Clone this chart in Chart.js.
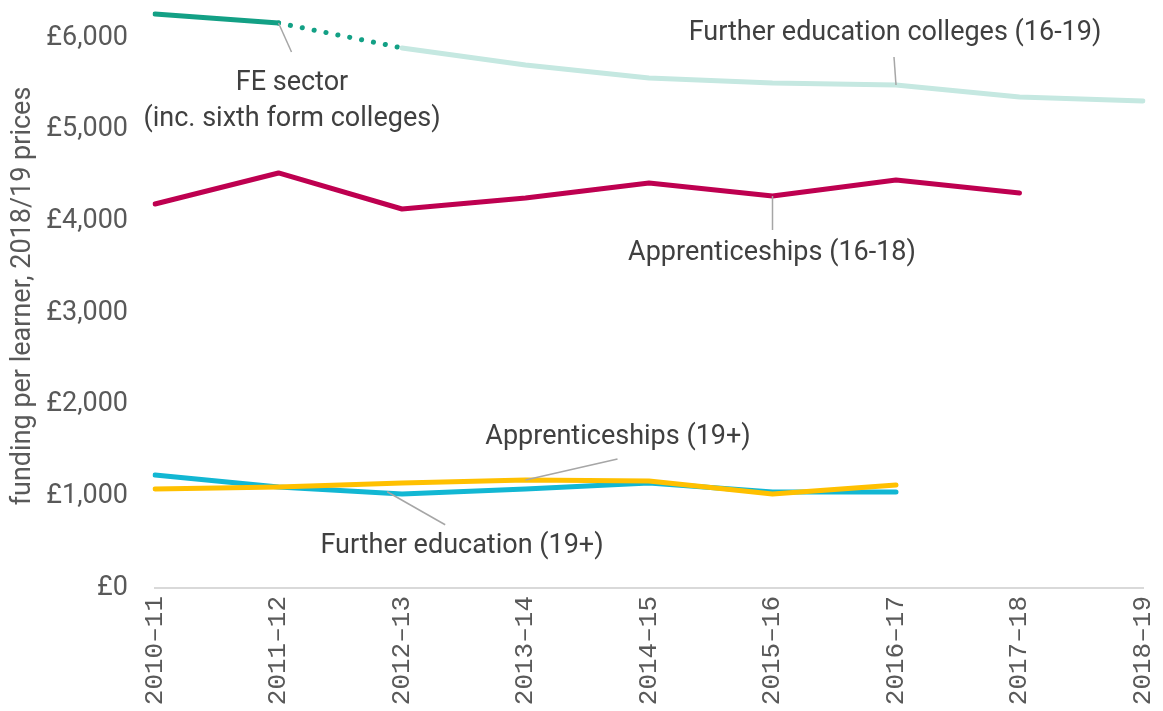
<!DOCTYPE html>
<html><head><meta charset="utf-8">
<script src="https://cdn.jsdelivr.net/npm/chart.js@4/dist/chart.umd.min.js"></script>
<style>html,body{margin:0;padding:0;background:#fff}#wrap{width:1163px;height:711px}</style>
</head><body><div id="wrap"><canvas id="c" width="1163" height="711"></canvas></div>
<script>
const categories = ['2010\u201311','2011\u201312','2012\u201313','2013\u201314','2014\u201315','2015\u201316','2016\u201317','2017\u201318','2018\u201319'];
const feSector = [6262, 6163, null, null, null, null, null, null, null];
const feSectorDotted = [null, 6163, 5891, null, null, null, null, null, null];
const feColleges = [null, null, 5891, 5705, 5563, 5509, 5487, 5356, 5313];
const appr1618 = [4189, 4527, 4134, 4254, 4418, 4276, 4451, 4309, null];
const appr19 = [1080, 1102, 1145, 1178, 1167, 1025, 1124, null, null];
const fe19 = [1233, 1102, 1025, 1080, 1145, 1047, 1047, null, null];
const yTicks = [0, 1000, 2000, 3000, 4000, 5000, 6000];

const annotations = [
  {lines:['FE sector','(inc. sixth form colleges)'], ax:1, av:6163, lx:13, ly:29, tx:292, ty:[83,119]},
  {lines:['Further education colleges (16-19)'], ax:6, av:5487, lx:-2, ly:-28, tx:895, ty:[33]},
  {lines:['Apprenticeships (16-18)'], ax:5, av:4276, lx:0, ly:34, tx:772, ty:[253]},
  {lines:['Apprenticeships (19+)'], ax:3, av:1178, lx:92, ly:-21, tx:618, ty:[437]},
  {lines:['Further education (19+)'], ax:1.88, av:1050, lx:58, ly:33, tx:462, ty:[546]}
];

const annPlugin = {
  id:'ann',
  afterDatasetsDraw(chart){
    const ctx = chart.ctx, xs = chart.scales.x, ys = chart.scales.y;
    ctx.save();
    annotations.forEach(a=>{
      const px = xs.getPixelForValue(a.ax), py = ys.getPixelForValue(a.av);
      ctx.strokeStyle = '#a6a6a6'; ctx.lineWidth = 1.5;
      ctx.beginPath(); ctx.moveTo(px, py); ctx.lineTo(px + a.lx, py + a.ly); ctx.stroke();
      ctx.fillStyle = '#404040';
      ctx.font = '27px Roboto';
      ctx.textAlign = 'center'; ctx.textBaseline = 'middle';
      a.lines.forEach((t,i)=>ctx.fillText(t, a.tx, a.ty[i]));
    });
    ctx.restore();
  }
};

const common = {pointRadius:0, pointHoverRadius:0, borderWidth:5, fill:false, tension:0, spanGaps:false, borderCapStyle:'round', borderJoinStyle:'round'};

new Chart(document.getElementById('c'), {
  type:'line',
  data:{
    labels:categories,
    datasets:[
      Object.assign({label:'FE colleges 16-19', data:feColleges, borderColor:'#c5e8e1'}, common),
      Object.assign({label:'FE sector', data:feSector, borderColor:'#13a085'}, common),
      Object.assign({label:'FE sector est', data:feSectorDotted, borderColor:'#13a085', borderDash:[0.1,12]}, common),
      Object.assign({label:'Apprenticeships 16-18', data:appr1618, borderColor:'#be0050'}, common),
      Object.assign({label:'Apprenticeships 19+', data:appr19, borderColor:'#ffc000'}, common),
      Object.assign({label:'Further education 19+', data:fe19, borderColor:'#12b7d3'}, common)
    ]
  },
  options:{
    responsive:false, animation:false,
    layout:{padding:{top:4,right:20,left:0,bottom:0}},
    plugins:{legend:{display:false}, tooltip:{enabled:false}},
    scales:{
      x:{
        offset:false,
        grid:{display:false, drawTicks:false},
        border:{display:true, color:'#d9d9d9', width:2},
        ticks:{autoSkip:false, maxRotation:90, minRotation:90, padding:8, color:'#595959', font:{family:'"Liberation Mono"', size:26}},
        afterFit(s){ s.height = 123; s.paddingRight = 0; s.paddingLeft = 0; }
      },
      y:{
        min:0, max:6370,
        afterBuildTicks(s){ s.ticks = yTicks.map(v=>({value:v})); },
        grid:{display:false, drawTicks:false},
        border:{display:false},
        ticks:{padding:27, color:'#595959', font:{family:'Roboto', size:27}, callback:v=>'\u00a3'+Number(v).toLocaleString('en-GB')},
        title:{display:true, text:'funding per learner, 2018/19 prices', color:'#595959', font:{family:'Roboto', size:27}, padding:{top:7,bottom:4}},
        afterFit(s){ s.width = 155; s.paddingTop = 0; s.paddingBottom = 0; }
      }
    }
  },
  plugins:[annPlugin]
});
</script></body></html>
